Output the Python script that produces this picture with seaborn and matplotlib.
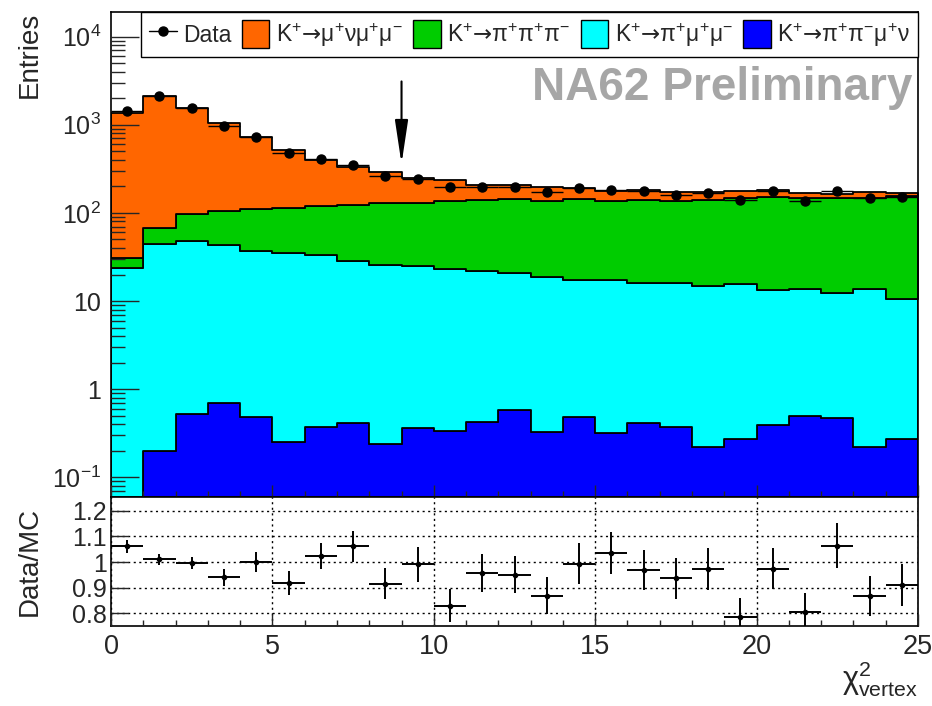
import numpy as np
import pandas as pd
import matplotlib
matplotlib.use("Agg")
import matplotlib.pyplot as plt
import matplotlib.ticker as mticker
from matplotlib.lines import Line2D
from matplotlib.patches import Patch
import seaborn as sns

# ── data ──────────────────────────────────────────────────────
bin_lo, bin_hi, bin_w = 0, 25, 1

n_mununumumu = [1334, 2052, 1458, 935, 619, 400, 279, 208, 158, 119, 98, 65, 63,
                61, 49, 42, 40, 34, 32, 31, 32, 23, 17, 22, 10]
n_3pi = [7.3, 24, 49, 61.7, 73.7, 79.9, 87.7, 95.8, 104.1, 103.2, 114.9, 119.1, 123.3,
         119.1, 126.5, 117.5, 125.9, 121.9, 126.1, 132.9, 136.6, 133.4, 136.7, 134.9, 146.3]
n_pimumu = [23.5, 43.8, 47.9, 42.6, 36.8, 34.8, 32.9, 27.8, 25.7, 24.4, 22.8, 21.5, 20.1,
            18.6, 17.0, 17.2, 15.7, 15.7, 14.7, 15.3, 13.0, 13.1, 11.8, 13.4, 10.4]
n_pipimunu = [0, 0.20, 0.52, 0.69, 0.48, 0.25, 0.37, 0.42, 0.24, 0.36, 0.34, 0.43, 0.58,
              0.33, 0.49, 0.32, 0.41, 0.37, 0.22, 0.27, 0.39, 0.50, 0.47, 0.22, 0.27]

n_data = [1445, 2140, 1550, 976, 730, 480, 410, 351, 264, 243, 197, 197, 197,
          173, 192, 183, 177, 161, 168, 141, 177, 137, 177, 148, 152]

ratio = [1.061, 1.010, 0.996, 0.940, 1.000, 0.918, 1.023, 1.061, 0.916, 0.991, 0.829, 0.957, 0.951,
         0.869, 0.994, 1.035, 0.970, 0.936, 0.971, 0.784, 0.974, 0.806, 1.064, 0.866, 0.910]
ratio_err = [0.025, 0.020, 0.025, 0.032, 0.040, 0.045, 0.052, 0.060, 0.061, 0.068, 0.064, 0.073, 0.073,
             0.073, 0.080, 0.082, 0.078, 0.079, 0.082, 0.074, 0.081, 0.074, 0.089, 0.078, 0.081]

labels = [r"K$^{+}\mathsf{→}\mu^{+}\nu\mu^{+}\mu^{-}$",
          r"K$^{+}\mathsf{→}\pi^{+}\pi^{+}\pi^{-}$",
          r"K$^{+}\mathsf{→}\pi^{+}\mu^{+}\mu^{-}$",
          r"K$^{+}\mathsf{→}\pi^{+}\pi^{-}\mu^{+}\nu$"]
colors = ["#FF6600", "#00CC00", "#00FFFF", "#0000FF"]

# ── styling ───────────────────────────────────────────────────
sns.set_style("white")
plt.rcParams.update({
    "font.family": ["Liberation Sans", "DejaVu Sans"],
    "mathtext.fontset": "custom",
    "mathtext.rm": "Liberation Sans",
    "mathtext.it": "Liberation Sans:italic",
    "mathtext.sf": "DejaVu Sans",
    "mathtext.default": "regular",
    "axes.edgecolor": "black",
    "axes.linewidth": 1.2,
    "axes.axisbelow": False,
})

centers = np.arange(bin_lo, bin_hi, bin_w) + bin_w / 2
df = pd.DataFrame({
    "chi2": np.tile(centers, 4),
    "entries": np.concatenate([n_mununumumu, n_3pi, n_pimumu, n_pipimunu]),
    "process": np.repeat(labels, len(centers)),
})

fig = plt.figure(figsize=(9.32, 7.06), dpi=100)
ax = fig.add_axes([0.1191, 0.296, 0.8659, 0.687])
ax2 = fig.add_axes([0.1191, 0.1133, 0.8659, 0.1827], sharex=ax)

# ── top panel: stacked MC + data ─────────────────────────────
ax.set_yscale("log")
sns.histplot(data=df, x="chi2", weights="entries", hue="process", hue_order=labels,
             palette=dict(zip(labels, colors)), binwidth=bin_w, binrange=(bin_lo, bin_hi),
             multiple="stack", element="step", alpha=1, edgecolor="black", linewidth=1.3,
             legend=False, ax=ax)
ax.errorbar(centers, n_data, xerr=bin_w / 2, yerr=np.sqrt(n_data), fmt="o", color="black",
            ms=6.5, elinewidth=1.0, capsize=0, zorder=5)
ax.set_axisbelow(False)

ax.set_xlim(bin_lo, bin_hi)
ax.set_ylim(0.06, 1.9e4)
ax.set_xlabel("")
ax.set_ylabel("")
ax.yaxis.set_major_locator(mticker.LogLocator(base=10, numticks=100))
ax.yaxis.set_minor_locator(mticker.LogLocator(base=10, subs=np.arange(2, 10), numticks=100))
ax.yaxis.set_minor_formatter(mticker.NullFormatter())


def log_fmt(v, _):
    e = int(round(np.log10(v)))
    if e == 0:
        return "1"
    if e == 1:
        return "10"
    return r"$10^{%d}$" % e


ax.yaxis.set_major_formatter(mticker.FuncFormatter(log_fmt))
ax.xaxis.set_major_locator(mticker.MultipleLocator(5))
ax.xaxis.set_minor_locator(mticker.MultipleLocator(1))
ax.tick_params(axis="y", which="major", direction="in", length=20, width=1, labelsize=18, pad=7,
               left=True, right=False)
ax.tick_params(axis="y", which="minor", direction="in", length=10, width=1, left=True, right=False)
ax.tick_params(axis="x", which="major", direction="in", length=9, width=1, labelbottom=False,
               bottom=True, top=False)
ax.tick_params(axis="x", which="minor", direction="in", length=4.5, width=1, bottom=True, top=False)

ax.annotate("", xy=(9, 360), xytext=(9, 3100),
            arrowprops=dict(arrowstyle="-|>,head_length=1.33,head_width=0.2",
                            color="black", lw=1.5, mutation_scale=20, shrinkA=0, shrinkB=0))

ax.text(0.9926, 0.8186, "NA62 Preliminary", transform=ax.transAxes, ha="right",
        va="baseline", fontsize=33, fontweight="bold", color="#A6A6A6")

handles = [Line2D([0], [0], marker="o", color="black", ms=6.5, lw=1)]
handles += [Patch(facecolor=c, edgecolor="black", lw=1) for c in colors]
leg = ax.legend(handles, ["Data"] + labels, ncol=5, loc="upper left",
                bbox_to_anchor=(0.0372, 0.897, 0.9628, 0.103), mode="expand",
                fontsize=16.5, frameon=True, fancybox=False, borderpad=0.35,
                handlelength=1.2, handleheight=1.5, handletextpad=0.3,
                columnspacing=0.4, borderaxespad=0)
leg.get_frame().set_edgecolor("black")
leg.get_frame().set_linewidth(1.0)
leg.get_frame().set_alpha(1)
leg.set_zorder(10)

# ── bottom panel: Data/MC ratio ──────────────────────────────
ax2.errorbar(centers, ratio, xerr=bin_w / 2, yerr=ratio_err, fmt="o", color="black",
             ms=3, elinewidth=1.4, capsize=0, zorder=5)
ax2.set_ylim(0.75, 1.254)
ax2.set_yticks([0.8, 0.9, 1.0, 1.1, 1.2])
ax2.yaxis.set_major_formatter(mticker.FuncFormatter(lambda v, _: f"{v:g}"))
ax2.grid(True, which="major", linestyle=(0, (1.5, 2.5)), color="black", linewidth=1)
ax2.tick_params(axis="y", which="major", direction="in", length=12, width=1, labelsize=18, pad=3,
                left=True, right=False)
ax2.tick_params(axis="x", which="major", direction="in", length=9, width=1, labelsize=19.5,
                pad=6, bottom=True, top=False)
ax2.tick_params(axis="x", which="minor", direction="in", length=4.5, width=1, bottom=True, top=False)
ax2.set_xlim(bin_lo, bin_hi)

fig.text(17 / 932, 1 - 12 / 706, "Entries", rotation=90, ha="left", va="top", fontsize=20)
fig.text(17 / 932, 1 - 561 / 706, "Data/MC", rotation=90, ha="left", va="center", fontsize=20)
fig.text(918 / 932, 1 - 699 / 706, r"$\chi^{2}_{vertex}$", ha="right", va="bottom", fontsize=22)

fig.savefig("out.png", dpi=100)
